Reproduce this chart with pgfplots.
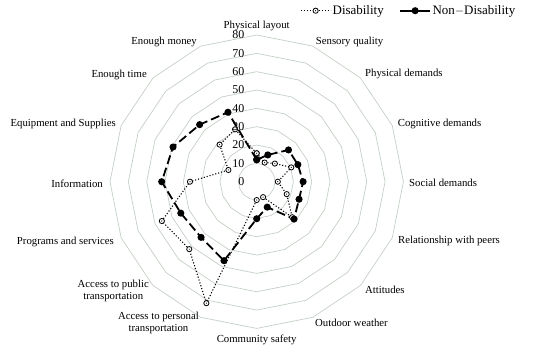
\documentclass[border=0pt]{standalone}
\usepackage{fontspec}
\setmainfont{Liberation Serif}
\usepackage{pgfplots}
\pgfplotsset{compat=1.18}
\definecolor{ringcol}{RGB}{196,208,196}
\pgfdeclareplotmark{cdot}{%
  \pgfsetfillcolor{white}%
  \pgfpathcircle{\pgfpointorigin}{\pgfplotmarksize}\pgfusepathqfillstroke
  \pgfsetfillcolor{black}%
  \pgfpathcircle{\pgfpointorigin}{0.6bp}\pgfusepathqfill}
\pgfplotsset{
  dislegend/.style={legend image code/.code={\draw[mark repeat=2,mark phase=2,##1] plot coordinates {(0bp,0bp) (15bp,0bp) (30bp,0bp)};}},
  ndlegend/.style={legend image code/.code={\draw[mark repeat=2,mark phase=2,##1,solid] plot coordinates {(0bp,0bp) (15bp,0bp) (30bp,0bp)};}},
}
\begin{document}
\fontsize{10.8}{11.7}\selectfont
\begin{tikzpicture}
\begin{axis}[
  x=1.834bp, y=1.834bp,
  xmin=-80, xmax=80, ymin=-80, ymax=80,
  hide axis, clip=false,
  legend columns=2,
  legend cell align=left,
  legend style={draw=none, fill=none, at={(axis cs:141.9,93.24)}, anchor=east,
    font=\fontsize{13}{14}\selectfont, inner sep=0pt,
    nodes={inner sep=1.5bp},
    /tikz/every even column/.append style={column sep=14bp}},
]
\pgfplotsinvokeforeach{10,20,30,40,50,60,70,80}{
  \addplot[ringcol, line width=0.7bp, data cs=polar, no markers, forget plot] coordinates {
    (90,#1) (67.5,#1) (45,#1) (22.5,#1) (0,#1) (-22.5,#1) (-45,#1) (-67.5,#1)
    (-90,#1) (-112.5,#1) (-135,#1) (-157.5,#1) (180,#1) (157.5,#1) (135,#1) (112.5,#1) (90,#1)};
}
% Disability
\addplot[black, line width=1.1bp, dash pattern=on 1.1bp off 1.9bp, data cs=polar,
  mark=cdot, mark size=2.6bp, mark options={solid, line width=0.8bp}, dislegend]
  coordinates {
  (90,15.5) (67.5,11.3) (45,14) (22.5,20.4) (0,11.5) (-22.5,17.7) (-45,27.4) (-67.5,9.1)
  (-90,10) (-112.5,71.7) (-135,52) (-157.5,56) (180,36.4) (157.5,16.7) (135,28.6) (112.5,30.9) (90,15.5)};
\addlegendentry{Disability}
% Non-Disability
\addplot[black, line width=1.8bp, dash pattern=on 9bp off 4bp, data cs=polar,
  mark=*, mark size=2.6bp, mark options={solid, fill=black}, ndlegend]
  coordinates {
  (90,12) (67.5,15.8) (45,24.5) (22.5,24.3) (0,25.3) (-22.5,25) (-45,28.8) (-67.5,15)
  (-90,20.2) (-112.5,46.6) (-135,42.9) (-157.5,44.8) (180,51.8) (157.5,49.4) (135,44) (112.5,41) (90,12)};
\addlegendentry{Non$-$Disability}
\coordinate (C) at (axis cs:0,0);
\end{axis}
\begin{scope}[shift={(C)}, shift={(-256.7bp,181.7bp)}, x=1bp, y=-1bp]
  % radial value labels
  \foreach \v in {0,10,...,80} {
    \pgfmathsetmacro{\yy}{181.7-1.834*\v}
    \node[anchor=east, inner sep=0pt, font=\fontsize{12}{12}\selectfont] at (244.5,\yy) {\v};
  }
  % category labels
  \begin{scope}[every node/.style={inner sep=0pt}]
  \node at (256.7,25.7) {Physical layout};
  \node[anchor=west] at (315.7,41.7) {Sensory quality};
  \node[anchor=west] at (365,74) {Physical demands};
  \node[anchor=west] at (397.7,124) {Cognitive demands};
  \node[anchor=west] at (409,182.7) {Social demands};
  \node[anchor=west] at (398,240.7) {Relationship with peers};
  \node[anchor=west] at (365,290) {Attitudes};
  \node[anchor=west] at (315,323.3) {Outdoor weather};
  \node at (256.7,340) {Community safety};
  \node[align=center, anchor=east] at (199,323) {Access to personal\\transportation};
  \node[align=center, anchor=east] at (149,291) {Access to public\\transportation};
  \node[anchor=east] at (114,241.7) {Programs and services};
  \node[anchor=east] at (103,183.3) {Information};
  \node[anchor=east] at (116,124) {Equipment and Supplies};
  \node[anchor=east] at (147,75) {Enough time};
  \node[anchor=east] at (197,41.7) {Enough money};
  \end{scope}
  \pgfresetboundingbox
  \path (0,0) rectangle (539,355);
\end{scope}
\end{tikzpicture}
\end{document}
